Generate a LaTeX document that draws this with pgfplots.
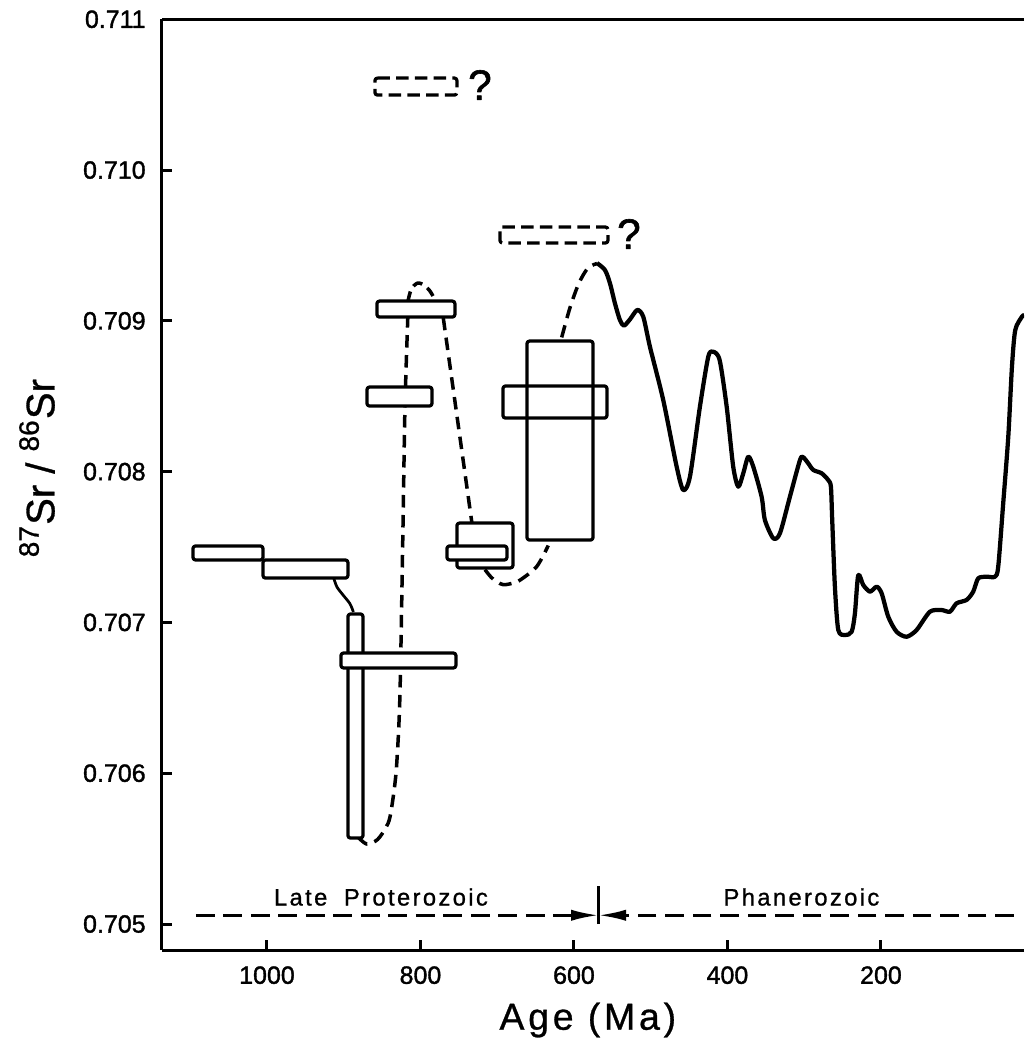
\documentclass[border=0pt]{standalone}
\usepackage{fontspec}
\setmainfont{Liberation Sans}
\newfontfamily\tickfont[FakeBold=1.4]{Liberation Sans}
\newfontfamily\spaced[LetterSpace=10,FakeBold=1]{Liberation Sans}
\newfontfamily\labfont[FakeBold=0.8]{Liberation Sans}
\newfontfamily\labspaced[LetterSpace=10,FakeBold=0.8]{Liberation Sans}
\usepackage{pgfplots}
\pgfplotsset{compat=1.18}
\usetikzlibrary{arrows.meta}

\begin{document}
\begin{tikzpicture}
\begin{axis}[
    scale only axis,
    width=344.8pt, height=372.3pt,
    x dir=reverse,
    xmin=13.6, xmax=1136.8,
    ymin=0.7048276, ymax=0.711,
    axis x line*=box,
    axis y line*=left,
    xtick pos=left, ytick pos=left,
    tick align=inside,
    xtick={200,400,600,800,1000},
    xticklabels={200,400,600,800,1000},
    ytick={0.705,0.706,0.707,0.708,0.709,0.71,0.711},
    yticklabels={0.705,0.706,0.707,0.708,0.709,0.710,0.711},
    scaled y ticks=false,
    major tick length=4pt,
    axis line style={line width=1.2pt},
    every tick/.style={line width=1.2pt, black},
    tick label style={font=\tickfont\fontsize{10}{12}\selectfont},
    yticklabel style={xshift=-3pt},
    xticklabel style={yshift=-3pt},
    xlabel={Age (Ma)},
    xlabel style={font=\labspaced\fontsize{15}{18}\selectfont,
        at={(axis description cs:0.494,0)}, anchor=center, yshift=-28pt},
    ylabel={\textsuperscript{87}Sr / \textsuperscript{86}Sr},
    ylabel style={font=\labfont\fontsize{16}{19}\selectfont,
        at={(axis description cs:-0.145,0.5177)}, anchor=center},
    no markers,
    line join=round,
]
\coordinate (O) at (rel axis cs:0,0);

% dashed connections
\addplot[line width=1.4pt, dash pattern=on 5pt off 3pt, smooth, tension=0.5] coordinates {
    (882,0.70558) (870,0.70553) (856,0.70556) (845,0.70564) (839.7,0.70571)
    (834,0.70590) (830.6,0.70609) (826.7,0.70653) (822.8,0.70763)
    (820.2,0.70843) (816.3,0.70905)
};
\addplot[line width=1.4pt, dash pattern=on 4pt off 2.5pt, smooth] coordinates {
    (816.3,0.70913) (812,0.70921) (804,0.70925) (796.4,0.70924) (788,0.70920) (781,0.70914)
};
\addplot[line width=1.4pt, dash pattern=on 5pt off 3pt] coordinates {
    (770.3,0.70902) (733,0.70766)
};
\addplot[line width=1.4pt, dash pattern=on 5pt off 3pt, smooth] coordinates {
    (716,0.70735) (708,0.70730) (700.7,0.70727) (692,0.70725) (680,0.70726)
    (670.4,0.70728) (648.6,0.70737) (633.5,0.70751)
};
\addplot[line width=1.4pt, dash pattern=on 5pt off 3pt, smooth] coordinates {
    (616,0.70889) (605,0.70909) (593.5,0.70925) (581.8,0.70935) (570,0.70938)
};

% solid connection B -> C
\addplot[line width=1.1pt, smooth] coordinates {
    (913.2,0.707296) (908.8,0.707235) (900.6,0.707180) (891.9,0.707124) (887.4,0.707069)
};

% seawater curve
\addplot[line width=1.7pt, smooth, tension=0.45] coordinates {
    (570.0,0.709383) (559.6,0.709337) (553.1,0.709249) (546.6,0.709116)
    (540.1,0.709005) (534.9,0.708968) (527.0,0.709010) (517.5,0.709072)
    (509.7,0.709027) (501.0,0.708828) (483.7,0.708475) (466.2,0.708033)
    (457.6,0.707878) (448.9,0.707966) (435.9,0.708430) (425.0,0.708762)
    (418.5,0.708795) (410.2,0.708740) (401.0,0.708430) (392.5,0.708033)
    (385.9,0.707900) (379.4,0.707989) (372.9,0.708099) (366.4,0.708033)
    (355.5,0.707834) (351.2,0.707679) (340.3,0.707558) (331.6,0.707591)
    (318.6,0.707834) (305.5,0.708077) (301.3,0.708095) (294.7,0.708055)
    (288.2,0.708011) (277.3,0.707989) (268.7,0.707944) (265.2,0.707900)
    (263.5,0.707679) (260.0,0.707237) (255.6,0.706950) (246.9,0.706916)
    (238.2,0.706938) (233.9,0.707060) (229.6,0.707314) (223.1,0.707248)
    (214.3,0.707204) (205.6,0.707237) (199.1,0.707193) (190.5,0.707038)
    (179.6,0.706938) (166.6,0.706905) (153.5,0.706950) (136.2,0.707071)
    (120.9,0.707082) (110.1,0.707071) (101.4,0.707127) (88.4,0.707149)
    (79.8,0.707204) (73.3,0.707292) (62.3,0.707303) (51.5,0.707303)
    (47.2,0.707369) (40.7,0.707790) (34.1,0.708231) (29.3,0.708696)
    (25.0,0.708939) (16.3,0.709027) (13.6,0.709038)
};

% sample boxes
\addplot[line width=1.3pt, rounded corners=1pt] coordinates {
    (1096.4,0.707507) (1005.2,0.707507) (1005.2,0.707414) (1096.4,0.707414)} -- cycle;
\addplot[line width=1.3pt, rounded corners=1pt] coordinates {
    (1005.2,0.707414) (894.5,0.707414) (894.5,0.707294) (1005.2,0.707294)} -- cycle;
\addplot[line width=1.3pt, rounded corners=1pt, fill=white] coordinates {
    (894.5,0.707056) (874.9,0.707056) (874.9,0.705570) (894.5,0.705570)} -- cycle;
\addplot[line width=1.3pt, rounded corners=1pt, fill=white] coordinates {
    (903.6,0.706797) (753.8,0.706797) (753.8,0.706698) (903.6,0.706698)} -- cycle;
\addplot[line width=1.3pt, rounded corners=1pt, fill=white] coordinates {
    (869.7,0.708561) (785.0,0.708561) (785.0,0.708435) (869.7,0.708435)} -- cycle;
\addplot[line width=1.3pt, rounded corners=1pt, fill=white] coordinates {
    (856.7,0.709131) (755.1,0.709131) (755.1,0.709025) (856.7,0.709025)} -- cycle;
\addplot[line width=1.3pt, rounded corners=1pt, fill=white] coordinates {
    (752.5,0.707659) (679.5,0.707659) (679.5,0.707361) (752.5,0.707361)} -- cycle;
\addplot[line width=1.3pt, rounded corners=1pt, fill=white] coordinates {
    (765.5,0.707507) (687.3,0.707507) (687.3,0.707414) (765.5,0.707414)} -- cycle;
\addplot[line width=1.3pt, rounded corners=1pt] coordinates {
    (661.2,0.708866) (575.2,0.708866) (575.2,0.707546) (661.2,0.707546)} -- cycle;
\addplot[line width=1.3pt, rounded corners=1pt] coordinates {
    (692.5,0.708568) (557.0,0.708568) (557.0,0.708355) (692.5,0.708355)} -- cycle;

% uncertain boxes
\addplot[line width=1.3pt, dash pattern=on 5pt off 2.5pt, rounded corners=1pt] coordinates {
    (859.3,0.710610) (752.5,0.710610) (752.5,0.710497) (859.3,0.710497)} -- cycle;
\addplot[line width=1.3pt, dash pattern=on 5pt off 2.5pt, rounded corners=1pt] coordinates {
    (696.4,0.709622) (555.7,0.709622) (555.7,0.709516) (696.4,0.709516)} -- cycle;
\node[font=\tickfont\fontsize{17}{20}\selectfont] at (axis cs:722.5,0.710564) {?};
\node[font=\tickfont\fontsize{17}{20}\selectfont] at (axis cs:528.4,0.709576) {?};

% era bar
\addplot[line width=1.1pt, dash pattern=on 7.5pt off 3.5pt, -{Latex[length=11pt,width=4.5pt]}]
    coordinates {(1092.5,0.705058) (568,0.705058)};
\addplot[line width=1.1pt, dash pattern=on 7.5pt off 3.5pt, -{Latex[length=11pt,width=4.5pt]}]
    coordinates {(26.7,0.705058) (568,0.705058)};
\addplot[line width=1pt] coordinates {(568,0.705) (568,0.705252)};
\node[font=\spaced\fontsize{9.5}{11}\selectfont] at (axis cs:851.5,0.705179) {Late\hspace{0.7em}Proterozoic};
\node[font=\spaced\fontsize{9.5}{11}\selectfont] at (axis cs:303.6,0.705179) {Phanerozoic};
\end{axis}
\path (O) ++(-64.8pt,-41.6pt) rectangle ++(409.6pt,421.6pt);
\end{tikzpicture}
\end{document}
